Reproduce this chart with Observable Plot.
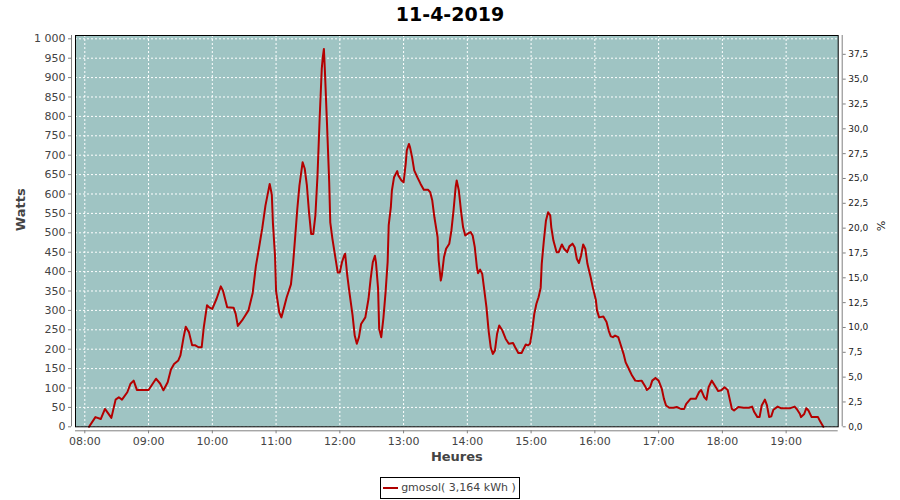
<!DOCTYPE html>
<html>
<head>
<meta charset="utf-8">
<script src="https://cdn.jsdelivr.net/npm/d3@7"></script>
<script src="https://cdn.jsdelivr.net/npm/@observablehq/plot@0.6"></script>
<style>
  body { margin: 0; background: #fff; font-family: "DejaVu Sans", sans-serif; width: 900px; height: 500px; overflow: hidden; }
  #title { height: 28px; line-height: 28px; text-align: center; font-weight: bold; font-size: 19px; color: #000; }
  #chart svg { display: block; }
  #legendwrap { text-align: center; margin-top: 9px; line-height: 0; }
  #legend { display: inline-flex; align-items: center; box-sizing: border-box; border: 1px solid #000; height: 22px; padding: 0 3px 0 2px; font-size: 11px; line-height: 20px; color: #444; }
  #legend .sw { display: inline-block; width: 15px; height: 2px; background: #b00000; margin-right: 3px; }
</style>
</head>
<body>
<div id="title"></div>
<div id="chart"></div>
<div id="legendwrap"><div id="legend"><span class="sw"></span><span id="legendText"></span></div></div>
<script>
const chartTitle = "11-4-2019";
const seriesName = "gmosol( 3,164 kWh )";
const xLabel = "Heures";
const yLabel = "Watts";
const y2Label = "%";

// minutes after 08:00
const minutes = [4,10,15,19,25,29,32,35,40,43,46,49,60,67,71,74,78,81,84,88,90,93,95,98,101,104,107,110,112,115,117,120,124,128,130,134,140,142,144,148,151,154,158,161,164,167,170,173,174,176,177,179,180,183,185,187,190,194,196,198,200,202,205,207,209,211,213,215,217,219,221,223,224,225,226,228,230,231,233,236,238,240,242,244,245,247,249,252,254,256,258,260,264,267,269,271,273,274,276,277,279,281,283,285,286,288,289,291,294,295,298,300,302,303,305,306,308,310,313,316,319,323,325,327,329,332,333,335,336,338,340,343,345,347,349,350,352,354,356,358,360,363,365,367,369,370,372,374,376,378,380,382,384,386,388,390,393,396,399,403,405,408,411,413,415,417,419,421,423,425,427,429,430,432,434,436,438,439,441,444,446,449,451,454,456,459,461,463,465,467,469,471,473,476,478,481,482,484,488,491,493,495,497,499,502,504,507,509,512,515,518,521,524,527,529,532,534,537,540,543,545,547,550,554,557,561,564,566,570,575,578,580,583,585,587,590,593,596,599,602,605,607,609,611,615,620,625,628,630,633,635,637,640,642,644,646,648,652,655,659,664,668,670,673,674,677,679,681,684,688,690,692,695];
const watts = [0,25,20,46,23,70,76,70,89,111,119,95,95,124,111,94,115,147,162,171,184,231,258,244,210,210,205,205,257,313,308,304,330,362,351,308,307,291,260,274,287,300,345,414,462,512,570,612,626,598,527,441,350,295,282,302,334,367,420,490,562,622,682,665,622,553,497,497,545,648,794,923,953,974,914,776,630,527,485,433,398,398,424,441,446,390,347,287,235,214,231,265,282,330,381,424,441,424,356,253,231,280,345,425,520,566,609,643,659,648,635,630,678,712,729,721,695,661,643,626,611,611,605,583,540,489,429,377,390,437,459,472,506,557,618,635,609,557,514,493,497,502,493,463,411,396,405,394,351,308,248,205,188,197,240,261,248,227,214,216,205,190,190,201,212,210,214,248,291,317,334,358,420,480,532,553,545,514,480,450,450,470,459,450,465,472,463,433,422,441,470,459,420,386,360,326,300,282,284,270,248,233,231,235,231,214,188,166,149,132,119,118,119,106,95,102,119,126,119,98,72,55,49,49,51,46,46,59,72,72,89,95,76,70,102,119,106,92,94,102,95,70,46,42,51,49,49,52,38,25,25,55,70,55,25,27,44,52,48,48,48,52,46,33,25,33,48,42,25,25,25,14,0];

const xTickMinutes = [0,60,120,180,240,300,360,420,480,540,600,660];
const xTickLabels = ["08:00","09:00","10:00","11:00","12:00","13:00","14:00","15:00","16:00","17:00","18:00","19:00"];
const yTicks = [0,50,100,150,200,250,300,350,400,450,500,550,600,650,700,750,800,850,900,950,1000];
const pctTicks = [0,2.5,5,7.5,10,12.5,15,17.5,20,22.5,25,27.5,30,32.5,35,37.5];
const peakWatts = 2560;       // 100 % on the right axis
const xDomain = [-8.75, 709];
const yDomain = [0, 1008.5];

document.getElementById("title").textContent = chartTitle;
document.getElementById("legendText").textContent = seriesName;

const data = minutes.map((m, i) => ({m, w: watts[i]}));
const fmtW = d => d >= 1000 ? String(Math.floor(d / 1000)) + " " + String(d % 1000).padStart(3, "0") : String(d);
const fmtPct = w => (Math.round(w / peakWatts * 1000) / 10).toFixed(1).replace(".", ",");

const axisGray = "#808080";
const textGray = "#444";

const chart = Plot.plot({
  width: 900,
  height: 440,
  marginTop: 7,
  marginBottom: 41.7,
  marginLeft: 75,
  marginRight: 62.3,
  x: {type: "linear", domain: xDomain, axis: null},
  y: {type: "linear", domain: yDomain, axis: null},
  style: {fontFamily: "DejaVu Sans, sans-serif", background: "white", overflow: "visible"},
  marks: [
    Plot.frame({fill: "#9fc4c3", stroke: null}),
    Plot.gridY(yTicks, {stroke: "#fff", strokeOpacity: 1, strokeWidth: 1, strokeDasharray: "2,2"}),
    Plot.gridX(xTickMinutes, {stroke: "#fff", strokeOpacity: 1, strokeWidth: 1, strokeDasharray: "2,2"}),
    Plot.line(data, {x: "m", y: "w", stroke: "#b40000", strokeWidth: 2}),
    Plot.frame({stroke: "#000", strokeWidth: 1}),
    // axis lines, offset from the plot area
    Plot.ruleX([xDomain[0]], {dx: -4, stroke: axisGray}),
    Plot.ruleX([xDomain[1]], {dx: 4, stroke: axisGray}),
    Plot.ruleY([yDomain[0]], {dy: 4, stroke: axisGray}),
    Plot.axisY(yTicks, {anchor: "left", dx: -4, tickSize: 3, tickPadding: 3, tickFormat: fmtW, fontSize: 11, fill: textGray, stroke: axisGray, label: null}),
    Plot.axisY(pctTicks.map(p => p * peakWatts / 100), {anchor: "right", dx: 4, tickSize: 3, tickPadding: 3, tickFormat: fmtPct, fontSize: 9, fill: "#222", stroke: axisGray, label: null}),
    Plot.axisX(xTickMinutes, {anchor: "bottom", dy: 4, tickSize: 3, tickPadding: 3, tickFormat: d => xTickLabels[xTickMinutes.indexOf(d)], fontSize: 11, fill: textGray, stroke: axisGray, label: null}),
    Plot.text([yLabel], {text: d => d, frameAnchor: "left", dx: -55, rotate: -90, fontSize: 13, fontWeight: "bold", fill: textGray}),
    Plot.text([xLabel], {text: d => d, frameAnchor: "bottom", dy: 34, fontSize: 13, fontWeight: "bold", fill: textGray}),
    Plot.text([y2Label], {text: d => d, frameAnchor: "right", dx: 42, rotate: 90, fontSize: 11, fill: "#222"})
  ]
});
document.getElementById("chart").appendChild(chart);
</script>
</body>
</html>
